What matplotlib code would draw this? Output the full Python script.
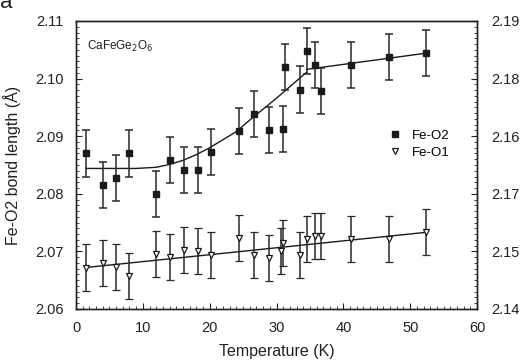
import matplotlib
matplotlib.use("Agg")
import matplotlib.pyplot as plt
from matplotlib.ticker import MultipleLocator
from matplotlib.lines import Line2D

plt.rcParams['font.family'] = ['Liberation Sans', 'DejaVu Sans']

# Fe-O2 (квадраты)
t_o2 = [1.45, 4.0, 6.0, 8.0, 11.9, 14.0, 16.1, 18.2, 20.2, 24.4, 26.6, 28.9, 30.9, 31.3,
        33.5, 34.5, 35.7, 36.7, 41.1, 46.8, 52.3]
fe_o2 = [2.0870, 2.0815, 2.0827, 2.0870, 2.0799, 2.0859, 2.0841, 2.0841, 2.0873, 2.0909,
         2.0938, 2.0911, 2.0913, 2.1020, 2.0981, 2.1048, 2.1024, 2.0979, 2.1023, 2.1038, 2.1044]
err_o2 = [0.004] * len(t_o2)

# Fe-O1 (треугольники)
t_o1 = [1.45, 4.0, 6.0, 8.0, 11.9, 14.0, 16.1, 18.2, 20.2, 24.4, 26.6, 28.9, 30.7, 31.0,
        33.5, 34.5, 35.7, 36.7, 41.1, 46.8, 52.3]
fe_o1 = [2.0672, 2.0680, 2.0673, 2.0658, 2.0695, 2.0691, 2.0702, 2.0700, 2.0693, 2.0723,
         2.0693, 2.0689, 2.0701, 2.0715, 2.0694, 2.0721, 2.0727, 2.0727, 2.0721, 2.0721, 2.0734]
err_o1 = [0.004] * len(t_o1)

# линии аппроксимации
fit_o2_t1 = [1.45, 6, 9, 12, 14, 16, 18, 20, 22, 24, 26, 28, 30, 32, 34.5]
fit_o2_v1 = [2.0844, 2.0844, 2.0844, 2.0846, 2.0851, 2.0858, 2.0868, 2.0880, 2.0894,
             2.0908, 2.0928, 2.0947, 2.0966, 2.0986, 2.1011]
fit_o2_t2 = [34.5, 52.3]
fit_o2_v2 = [2.1016, 2.1044]
fit_o1_t = [1.45, 52.3]
fit_o1_v = [2.0672, 2.0733]

right_labels = ['2.14', '2.15', '2.17', '2.16', '2.18', '2.19']

dark = '#222222'

fig = plt.figure(figsize=(5.29, 3.6), dpi=100)
ax = fig.add_axes([0.1437, 0.1417, 0.758, 0.800])

ax.plot(fit_o2_t1, fit_o2_v1, color='#1a1a1a', lw=1.0)
ax.plot(fit_o2_t2, fit_o2_v2, color='#1a1a1a', lw=1.0)
ax.plot(fit_o1_t, fit_o1_v, color='#1a1a1a', lw=1.0)

ax.errorbar(t_o2, fe_o2, yerr=err_o2, fmt='s', color='#1a1a1a', ms=4.5,
            ecolor='#2a2a2a', elinewidth=1.1, capsize=2.8, capthick=1.1)
ax.errorbar(t_o1, fe_o1, yerr=err_o1, fmt='v', mfc='white', mec='#1a1a1a', mew=0.9, ms=5,
            ecolor='#2a2a2a', elinewidth=1.1, capsize=2.8, capthick=1.1)

ax.set_xlim(0, 60)
ax.set_ylim(2.06, 2.11)
ax.xaxis.set_major_locator(MultipleLocator(10))
ax.xaxis.set_minor_locator(MultipleLocator(1))
ax.yaxis.set_major_locator(MultipleLocator(0.01))
ax.yaxis.set_minor_locator(MultipleLocator(0.001))
ax.yaxis.set_major_formatter(plt.FormatStrFormatter('%.2f'))
ax.tick_params(which='both', direction='in', top=False, right=False, labelsize=10.5, colors=dark)
ax.tick_params(which='major', length=4)
ax.tick_params(which='minor', length=2)
ax.tick_params(axis='y', pad=9)
ax.tick_params(axis='x', pad=9)

ax2 = ax.twinx()
ax2.set_ylim(2.06, 2.11)
ax2.yaxis.set_minor_locator(MultipleLocator(0.001))
ax2.set_yticks([2.06, 2.07, 2.08, 2.09, 2.10, 2.11])
ax2.set_yticklabels(right_labels)
ax2.tick_params(which='both', direction='in', labelsize=10.5, colors=dark, pad=10)
ax2.tick_params(which='major', length=4)
ax2.tick_params(which='minor', length=2)

for a in (ax, ax2):
    for s in a.spines.values():
        s.set_linewidth(1.0)
        s.set_color(dark)

ax.set_xlabel('Temperature (K)', fontsize=11.5, color=dark, labelpad=6)
ax.set_ylabel('Fe-O2 bond length (Å)', fontsize=11.5, color=dark, labelpad=10)

ax.text(0.027, 0.91, 'CaFeGe$_2$O$_6$', transform=ax.transAxes, fontsize=8.5,
        va='center', ha='left', color=dark)

handles = [Line2D([], [], ls='none', marker='s', color='#1a1a1a', ms=4),
           Line2D([], [], ls='none', marker='v', mfc='white', mec='#1a1a1a', mew=0.9, ms=4.5)]
ax.legend(handles, ['Fe-O2', 'Fe-O1'], loc='center left', bbox_to_anchor=(0.755, 0.573),
          frameon=False, fontsize=9.5, handlelength=1.0, handletextpad=0.8,
          labelspacing=0.35, borderpad=0.2)

fig.text(0.0, 0.977, 'a', fontsize=16, va='baseline', ha='left', color=dark)

fig.savefig('out.png', dpi=100)
